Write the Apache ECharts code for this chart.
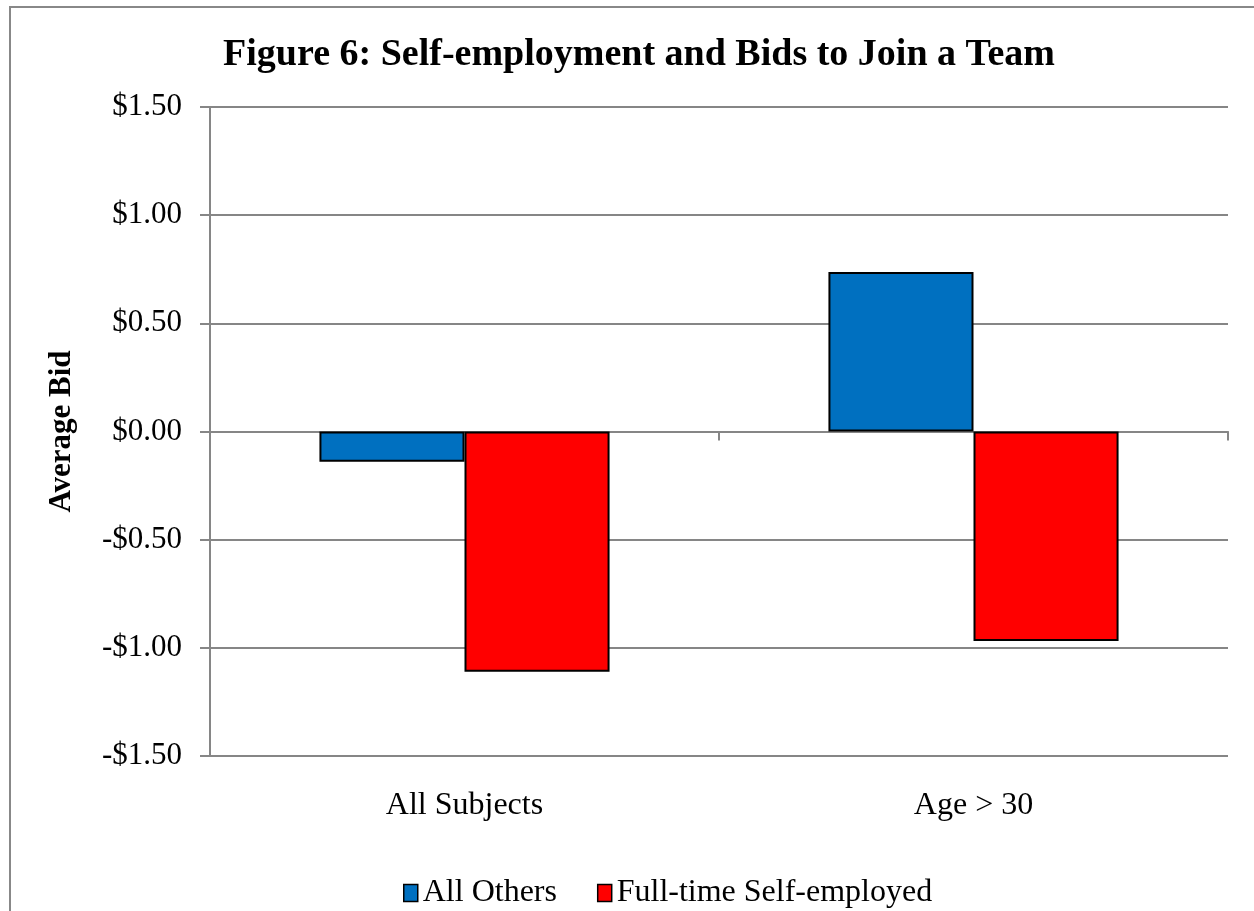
<!DOCTYPE html>
<html><head><meta charset="utf-8">
<script src="https://cdn.jsdelivr.net/npm/echarts@6/dist/echarts.min.js"></script>
<style>html,body{margin:0;padding:0;background:#fff}#c{width:1254px;height:911px}</style>
</head><body><div id="c"></div>
<script>
const categories = ['All Subjects', 'Age > 30'];
const allOthers = [-0.14, 0.737];
const selfEmployed = [-1.11, -0.968];
const yTicks = [-1.5, -1.0, -0.5, 0, 0.5, 1.0, 1.5];

const font = '"Liberation Serif", "Times New Roman", serif';
const chart = echarts.init(document.getElementById('c'));
function fmt(v){ return (v < 0 ? '-$' : '$') + Math.abs(v).toFixed(2); }
chart.setOption({
  animation: false,
  backgroundColor: '#fff',
  graphic: [{type:'rect', shape:{x:10, y:7, width:1300, height:1000}, style:{fill:'none', stroke:'#888', lineWidth:2}, silent:true}],
  title: {text:'Figure 6: Self-employment and Bids to Join a Team', left:634, top:31, textAlign:'center',
    textStyle:{fontFamily:font, fontSize:38, fontWeight:'bold', color:'#000'}},
  legend: {left:398, top:872, icon:'rect', itemWidth:14, itemHeight:17, itemGap:40,
    textStyle:{fontFamily:font, fontSize:32, color:'#000'},
    data:[{name:'All Others', itemStyle:{borderColor:'#000', borderWidth:1.5}},
          {name:'Full-time Self-employed', itemStyle:{borderColor:'#000', borderWidth:1.5}}]},
  grid: {left:210, right:26, top:107, bottom:155},
  xAxis: [
    {type:'category', data:categories, position:'bottom',
     axisLine:{show:false, onZero:false}, axisTick:{show:false},
     axisLabel:{fontFamily:font, fontSize:32, color:'#000', margin:34}},
    {type:'category', data:categories, position:'bottom',
     axisLine:{show:true, onZero:true, lineStyle:{color:'#868686', width:2}},
     axisTick:{show:true, length:9, lineStyle:{color:'#868686', width:2}},
     axisLabel:{show:false}}
  ],
  yAxis: {type:'value', min:-1.5, max:1.5, interval:0.5,
    name:'Average Bid', nameLocation:'middle', nameGap:133, nameRotate:90,
    nameTextStyle:{fontFamily:font, fontSize:31, fontWeight:'bold', color:'#000'},
    axisLine:{show:true, lineStyle:{color:'#868686', width:2}},
    axisTick:{show:true, length:10, lineStyle:{color:'#868686', width:2}},
    axisLabel:{fontFamily:font, fontSize:31, color:'#000', margin:28,
      formatter:function(v){ return yTicks.indexOf(v) >= 0 ? fmt(v) : ''; }},
    splitLine:{show:true, lineStyle:{color:'#868686', width:2}}},
  series: [
    {name:'All Others', type:'bar', data:allOthers, xAxisIndex:0, barCategoryGap:'43%', barGap:'0%',
     itemStyle:{color:'#0070C0', borderColor:'#000', borderWidth:2}},
    {name:'Full-time Self-employed', type:'bar', data:selfEmployed, xAxisIndex:0, barCategoryGap:'43%', barGap:'0%',
     itemStyle:{color:'#FF0000', borderColor:'#000', borderWidth:2}}
  ]
});
</script></body></html>
